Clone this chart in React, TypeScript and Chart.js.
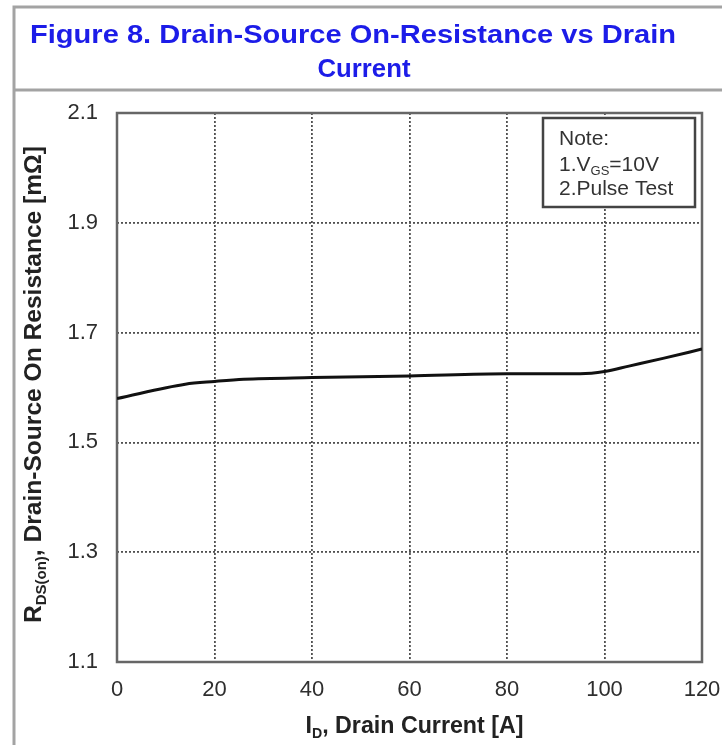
import React, { useEffect, useRef } from 'react';
import { Chart, registerables } from 'chart.js';

Chart.register(...registerables);

// ---- data ----
const drainCurrentA = [0, 14, 20, 26, 40, 60, 80, 95, 100, 105, 112, 120];
const rdsOnMilliOhm = [1.58, 1.606, 1.611, 1.615, 1.618, 1.621, 1.625, 1.625, 1.629, 1.639, 1.653, 1.67];
const xTickValues = [0, 20, 40, 60, 80, 100, 120];
const yTickValues = [1.1, 1.3, 1.5, 1.7, 1.9, 2.1];
const titleLines = ['Figure 8. Drain-Source On-Resistance vs Drain', 'Current'];

type Seg = { t: string; sub?: boolean };
const xAxisTitle: Seg[] = [{ t: 'I' }, { t: 'D', sub: true }, { t: ', Drain Current [A]' }];
const yAxisTitle: Seg[] = [{ t: 'R' }, { t: 'DS(on)', sub: true }, { t: ', Drain-Source On Resistance [mΩ]' }];
const noteLines: Seg[][] = [
  [{ t: 'Note:' }],
  [{ t: '1.V' }, { t: 'GS', sub: true }, { t: '=10V' }],
  [{ t: '2.Pulse Test' }],
];

const FONT = "'Liberation Sans', Arial, Helvetica, sans-serif";

function drawRich(
  ctx: CanvasRenderingContext2D,
  segs: Seg[],
  x: number,
  y: number,
  size: number,
  bold: boolean,
  color: string,
  align: 'left' | 'center',
  fitWidth?: number
) {
  const fontOf = (s: Seg) => `${bold ? 'bold ' : ''}${s.sub ? Math.round(size * 0.62) : size}px ${FONT}`;
  let total = 0;
  for (const s of segs) {
    ctx.font = fontOf(s);
    total += ctx.measureText(s.t).width;
  }
  const sx = fitWidth ? fitWidth / total : 1;
  ctx.save();
  ctx.translate(x, y);
  ctx.scale(sx, 1);
  let cx = align === 'center' ? -total / 2 : 0;
  ctx.fillStyle = color;
  ctx.textBaseline = 'alphabetic';
  ctx.textAlign = 'left';
  for (const s of segs) {
    ctx.font = fontOf(s);
    ctx.fillText(s.t, cx, s.sub ? size * 0.2 : 0);
    cx += ctx.measureText(s.t).width;
  }
  ctx.restore();
}

const decorPlugin = {
  id: 'decor',
  beforeDraw(chart: any) {
    const ctx: CanvasRenderingContext2D = chart.ctx;
    const W = chart.width;
    const H = chart.height;
    ctx.save();
    ctx.fillStyle = '#ffffff';
    ctx.fillRect(0, 0, W, H);
    // outer frame
    ctx.strokeStyle = '#a3a3a3';
    ctx.lineWidth = 3;
    ctx.beginPath();
    ctx.moveTo(14, H);
    ctx.lineTo(14, 7);
    ctx.lineTo(W, 7);
    ctx.moveTo(14, 90);
    ctx.lineTo(W, 90);
    ctx.stroke();
    ctx.restore();
    // title
    drawRich(ctx, [{ t: titleLines[0] }], 30, 43, 26, true, '#1c1ce8', 'left', 646);
    drawRich(ctx, [{ t: titleLines[1] }], 364, 77, 26, true, '#1c1ce8', 'center', 93);
  },
  beforeDatasetsDraw(chart: any) {
    const ctx: CanvasRenderingContext2D = chart.ctx;
    const a = chart.chartArea;
    ctx.save();
    ctx.strokeStyle = '#666666';
    ctx.lineWidth = 2.5;
    ctx.strokeRect(a.left, a.top, a.right - a.left, a.bottom - a.top);
    ctx.restore();
  },
  afterDraw(chart: any) {
    const ctx: CanvasRenderingContext2D = chart.ctx;
    const a = chart.chartArea;
    // axis titles
    drawRich(ctx, xAxisTitle, (a.left + a.right) / 2 + 5, 733, 23, true, '#222222', 'center', 218);
    ctx.save();
    ctx.translate(41, (a.top + a.bottom) / 2 - 3);
    ctx.rotate(-Math.PI / 2);
    drawRich(ctx, yAxisTitle, 0, 0, 23, true, '#222222', 'center', 477);
    ctx.restore();
    // note box
    ctx.save();
    ctx.fillStyle = '#ffffff';
    ctx.fillRect(543, 118, 152, 89);
    ctx.strokeStyle = '#444444';
    ctx.lineWidth = 2.5;
    ctx.strokeRect(543, 118, 152, 89);
    ctx.restore();
    const baselines = [145, 171, 195];
    noteLines.forEach((line, i) => {
      drawRich(ctx, line, 559, baselines[i], 21, false, '#333333', 'left');
    });
  },
};

export default function App() {
  const ref = useRef<HTMLCanvasElement | null>(null);
  useEffect(() => {
    document.body.style.margin = '0';
    document.body.style.background = '#ffffff';
    const canvas = ref.current!;
    const chart = new Chart(canvas, {
      type: 'line',
      data: {
        datasets: [
          {
            data: drainCurrentA.map((x, i) => ({ x, y: rdsOnMilliOhm[i] })),
            borderColor: '#111111',
            borderWidth: 3,
            pointRadius: 0,
            cubicInterpolationMode: 'monotone',
            fill: false,
          },
        ],
      },
      options: {
        animation: false,
        responsive: false,
        devicePixelRatio: 1,
        layout: { padding: { left: 0, right: 20, top: 113, bottom: 0 } },
        plugins: { legend: { display: false }, title: { display: false }, tooltip: { enabled: false } },
        scales: {
          x: {
            type: 'linear',
            min: 0,
            max: 120,
            afterBuildTicks: (s: any) => {
              s.ticks = xTickValues.map((v) => ({ value: v }));
            },
            afterFit: (s: any) => {
              s.height = 83;
              s.paddingLeft = 0;
              s.paddingRight = 0;
            },
            grid: { color: '#505050', lineWidth: 1.8, drawTicks: false },
            border: { display: false, dash: [2, 2] },
            ticks: {
              padding: 15,
              maxRotation: 0,
              autoSkip: false,
              color: '#2e2e2e',
              font: { family: FONT, size: 22 },
              callback: (v: any) => String(v),
            },
          },
          y: {
            type: 'linear',
            min: 1.1,
            max: 2.1,
            afterBuildTicks: (s: any) => {
              s.ticks = yTickValues.map((v) => ({ value: v }));
            },
            afterFit: (s: any) => {
              s.width = 117;
              s.paddingTop = 0;
              s.paddingBottom = 0;
            },
            grid: { color: '#505050', lineWidth: 1.8, drawTicks: false },
            border: { display: false, dash: [2, 2] },
            ticks: {
              padding: 19,
              autoSkip: false,
              color: '#2e2e2e',
              font: { family: FONT, size: 22 },
              callback: (v: any) => Number(v).toFixed(1),
            },
          },
        },
      },
      plugins: [decorPlugin],
    } as any);
    return () => chart.destroy();
  }, []);
  return (
    <div style={{ position: 'fixed', left: 0, top: 0, width: 722, height: 745, background: '#fff' }}>
      <canvas ref={ref} width={722} height={745} style={{ display: 'block', width: 722, height: 745 }} />
    </div>
  );
}
